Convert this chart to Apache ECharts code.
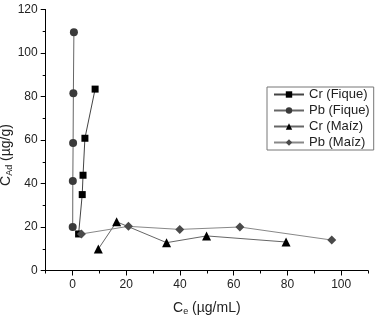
<!DOCTYPE html>
<html><head><meta charset="utf-8">
<script src="https://cdn.jsdelivr.net/npm/echarts@6/dist/echarts.min.js"></script>
<style>html,body{margin:0;padding:0;background:#fff}#c{width:376px;height:316px}</style>
</head><body><div id="c"></div>
<script>
const seriesNames = ['Cr (Fique)', 'Pb (Fique)', 'Cr (Maíz)', 'Pb (Maíz)'];
const crFiqueX = [2.25, 3.6, 3.9, 4.6, 8.4];
const crFiqueY = [16.8, 34.9, 43.8, 60.8, 83.4];
const pbFiqueX = [0.05, 0.1, 0.2, 0.3, 0.5];
const pbFiqueY = [20.0, 41.1, 58.6, 81.5, 109.5];
const crMaizX = [9.6, 16.4, 35.0, 49.9, 79.5];
const crMaizY = [9.9, 22.4, 12.8, 15.9, 13.1];
const pbMaizX = [3.3, 20.8, 39.9, 62.3, 96.5];
const pbMaizY = [16.8, 20.3, 18.9, 20.0, 14.0];
const xMajorTicks = [0, 20, 40, 60, 80, 100];
const xMinorTicks = [-10, 10, 30, 50, 70, 90, 110];
const yMajorTicks = [0, 20, 40, 60, 80, 100, 120];

const font = 'Arial, "Liberation Sans", sans-serif';
const pair = (xs, ys) => xs.map((x, i) => [x, ys[i]]);
const nameRich = {
  a: {fontSize: 14, color: '#222', fontFamily: font},
  s: {fontSize: 9, color: '#222', verticalAlign: 'bottom', padding: [7, 0, 0, 0], fontFamily: font}
};

const chart = echarts.init(document.getElementById('c'), null, {renderer: 'canvas'});
chart.setOption({
  animation: false,
  backgroundColor: '#fff',
  textStyle: {fontFamily: font},
  grid: {left: 45.7, right: 8, top: 9.5, bottom: 45.5, containLabel: false, outerBoundsMode: 'none'},
  legend: {
    orient: 'vertical', left: 267, top: 87,
    padding: [1, 4, 1, 6], itemGap: 3, itemWidth: 30, itemHeight: 8,
    borderColor: '#777', borderWidth: 1,
    textStyle: {fontFamily: font, fontSize: 13, color: '#222', lineHeight: 13},
    data: seriesNames
  },
  xAxis: [{
    type: 'value', min: -10, max: 110,
    name: '{a|C}{s|e}{a| (µg/mL)}', nameLocation: 'middle', nameGap: 30, nameMoveOverlap: false,
    nameTextStyle: {rich: nameRich},
    axisLine: {show: true, onZero: false, lineStyle: {color: '#000', width: 1}},
    axisTick: {show: true, length: 5, customValues: xMajorTicks, lineStyle: {color: '#000'}},
    axisLabel: {customValues: xMajorTicks, fontSize: 12, color: '#222', margin: 8, fontFamily: font},
    splitLine: {show: false}
  }, {
    type: 'value', min: -10, max: 110, position: 'bottom', offset: 0,
    axisLine: {show: false, onZero: false},
    axisTick: {show: true, length: 3, customValues: xMinorTicks, lineStyle: {color: '#000'}},
    axisLabel: {show: false},
    splitLine: {show: false}
  }],
  yAxis: {
    type: 'value', min: 0, max: 120, interval: 20,
    name: '{a|C}{s|Ad}{a| (µg/g)}', nameLocation: 'middle', nameGap: 32, nameRotate: 90, nameMoveOverlap: false,
    nameTextStyle: {rich: nameRich, padding: [0, 30, 0, 0]},
    axisLine: {show: true, onZero: false, lineStyle: {color: '#000', width: 1}},
    axisTick: {show: true, length: 5, lineStyle: {color: '#000'}},
    minorTick: {show: true, splitNumber: 2, length: 3, lineStyle: {color: '#000'}},
    axisLabel: {fontSize: 12, color: '#222', margin: 8, fontFamily: font, customValues: yMajorTicks},
    splitLine: {show: false}
  },
  series: [
    {name: seriesNames[0], type: 'line', data: pair(crFiqueX, crFiqueY), symbol: 'rect', symbolSize: 7,
     itemStyle: {color: '#000'}, lineStyle: {color: '#444', width: 1}},
    {name: seriesNames[1], type: 'line', data: pair(pbFiqueX, pbFiqueY), symbol: 'circle', symbolSize: 8,
     itemStyle: {color: '#3a3a3a'}, lineStyle: {color: '#666', width: 1}},
    {name: seriesNames[2], type: 'line', data: pair(crMaizX, crMaizY), symbol: 'triangle', symbolSize: 9,
     itemStyle: {color: '#000'}, lineStyle: {color: '#666', width: 1}},
    {name: seriesNames[3], type: 'line', data: pair(pbMaizX, pbMaizY), symbol: 'diamond', symbolSize: 9,
     itemStyle: {color: '#4a4a4a'}, lineStyle: {color: '#888', width: 1}}
  ]
});
</script></body></html>
